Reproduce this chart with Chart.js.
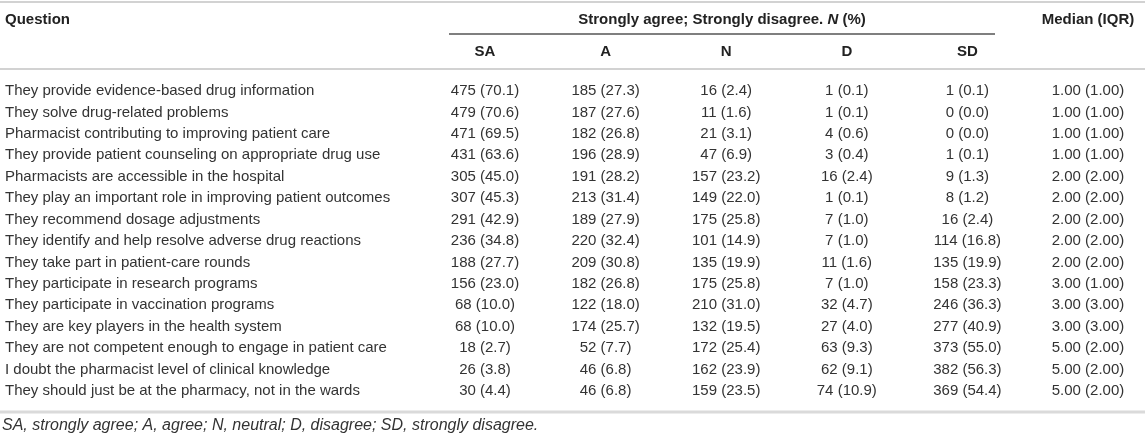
<!DOCTYPE html>
<html>
<head>
<meta charset="utf-8">
<script src="https://cdn.jsdelivr.net/npm/chart.js@4.4.1/dist/chart.umd.min.js"></script>
<style>
  html, body { margin: 0; padding: 0; background: #fff; }
  canvas { display: block; }
</style>
</head>
<body>
<canvas id="tableChart" width="1145" height="434"></canvas>
<script>
const questions = [
  "They provide evidence-based drug information",
  "They solve drug-related problems",
  "Pharmacist contributing to improving patient care",
  "They provide patient counseling on appropriate drug use",
  "Pharmacists are accessible in the hospital",
  "They play an important role in improving patient outcomes",
  "They recommend dosage adjustments",
  "They identify and help resolve adverse drug reactions",
  "They take part in patient-care rounds",
  "They participate in research programs",
  "They participate in vaccination programs",
  "They are key players in the health system",
  "They are not competent enough to engage in patient care",
  "I doubt the pharmacist level of clinical knowledge",
  "They should just be at the pharmacy, not in the wards"
];
const columnLabels = ["SA", "A", "N", "D", "SD", "Median (IQR)"];

const saN = [475, 479, 471, 431, 305, 307, 291, 236, 188, 156, 68, 68, 18, 26, 30];
const saPct = [70.1, 70.6, 69.5, 63.6, 45.0, 45.3, 42.9, 34.8, 27.7, 23.0, 10.0, 10.0, 2.7, 3.8, 4.4];
const aN = [185, 187, 182, 196, 191, 213, 189, 220, 209, 182, 122, 174, 52, 46, 46];
const aPct = [27.3, 27.6, 26.8, 28.9, 28.2, 31.4, 27.9, 32.4, 30.8, 26.8, 18.0, 25.7, 7.7, 6.8, 6.8];
const nN = [16, 11, 21, 47, 157, 149, 175, 101, 135, 175, 210, 132, 172, 162, 159];
const nPct = [2.4, 1.6, 3.1, 6.9, 23.2, 22.0, 25.8, 14.9, 19.9, 25.8, 31.0, 19.5, 25.4, 23.9, 23.5];
const dN = [1, 1, 4, 3, 16, 1, 7, 7, 11, 7, 32, 27, 63, 62, 74];
const dPct = [0.1, 0.1, 0.6, 0.4, 2.4, 0.1, 1.0, 1.0, 1.6, 1.0, 4.7, 4.0, 9.3, 9.1, 10.9];
const sdN = [1, 0, 0, 1, 9, 8, 16, 114, 135, 158, 246, 277, 373, 382, 369];
const sdPct = [0.1, 0.0, 0.0, 0.1, 1.3, 1.2, 2.4, 16.8, 19.9, 23.3, 36.3, 40.9, 55.0, 56.3, 54.4];
const median = [1, 1, 1, 1, 2, 2, 2, 2, 2, 3, 3, 3, 5, 5, 5];
const iqr = [1, 1, 1, 1, 2, 2, 2, 2, 2, 1, 3, 3, 2, 2, 2];

const footnote = "SA, strongly agree; A, agree; N, neutral; D, disagree; SD, strongly disagree.";

const FONT = "'Liberation Sans', Arial, Helvetica, sans-serif";
const textColor = "#333";
const headColor = "#222";

// one dataset per column, one point per question row
const countCols = [[saN, saPct], [aN, aPct], [nN, nPct], [dN, dPct], [sdN, sdPct]];
const cellText = countCols.map(([n, p]) => n.map((v, i) => `${v} (${p[i].toFixed(1)})`));
cellText.push(median.map((m, i) => `${m.toFixed(2)} (${iqr[i].toFixed(2)})`));

const datasets = columnLabels.map((col, j) => ({
  label: col,
  data: questions.map(q => ({ x: col, y: q })),
  cellText: cellText[j],
  showLine: false,
  pointRadius: 0,
  pointHoverRadius: 0
}));

const cellPlugin = {
  id: "cells",
  afterDatasetsDraw(chart) {
    const ctx = chart.ctx;
    ctx.save();
    ctx.font = `15px ${FONT}`;
    ctx.fillStyle = textColor;
    ctx.textAlign = "center";
    ctx.textBaseline = "middle";
    chart.data.datasets.forEach((ds, j) => {
      chart.getDatasetMeta(j).data.forEach((pt, i) => {
        ctx.fillText(ds.cellText[i], pt.x, pt.y);
      });
    });
    ctx.restore();
  }
};

const framePlugin = {
  id: "frame",
  afterDraw(chart) {
    const ctx = chart.ctx;
    const xs = chart.scales.x;
    const W = chart.width;
    const hline = (x1, x2, y, w, c) => {
      ctx.beginPath();
      ctx.lineWidth = w;
      ctx.strokeStyle = c;
      ctx.moveTo(x1, y);
      ctx.lineTo(x2, y);
      ctx.stroke();
    };
    ctx.save();
    hline(0, W, 2, 2, "#d2d2d2");
    hline(449, 995, 34, 1.5, "#555");
    hline(0, W, 69, 2, "#d2d2d2");
    hline(0, W, 412, 3, "#dadada");

    ctx.fillStyle = headColor;
    ctx.textBaseline = "middle";
    ctx.font = `bold 15px ${FONT}`;
    ctx.textAlign = "left";
    ctx.fillText("Question", 5, 20);

    // group header with italic N
    const p1 = "Strongly agree; Strongly disagree. ", p2 = "N", p3 = " (%)";
    const bold = `bold 15px ${FONT}`, boldIt = `italic bold 15px ${FONT}`;
    ctx.font = bold; const w1 = ctx.measureText(p1).width, w3 = ctx.measureText(p3).width;
    ctx.font = boldIt; const w2 = ctx.measureText(p2).width;
    let gx = (449 + 995) / 2 - (w1 + w2 + w3) / 2;
    ctx.font = bold; ctx.fillText(p1, gx, 20);
    ctx.font = boldIt; ctx.fillText(p2, gx + w1, 20);
    ctx.font = bold; ctx.fillText(p3, gx + w1 + w2, 20);

    ctx.textAlign = "center";
    ctx.font = bold;
    columnLabels.forEach((c, j) => {
      const x = xs.getPixelForValue(j);
      ctx.fillText(c, x, j < 5 ? 52 : 20);
    });

    ctx.font = `italic 16px ${FONT}`;
    ctx.fillStyle = textColor;
    ctx.textAlign = "left";
    ctx.fillText(footnote, 2, 426);
    ctx.restore();
  }
};

new Chart(document.getElementById("tableChart").getContext("2d"), {
  type: "line",
  data: { datasets },
  options: {
    responsive: false,
    animation: false,
    events: [],
    layout: { padding: { left: 5, right: 57, top: 91, bottom: 43 } },
    plugins: { legend: { display: false }, tooltip: { enabled: false } },
    scales: {
      x: {
        type: "category",
        labels: columnLabels,
        offset: false,
        display: false
      },
      y: {
        type: "category",
        labels: questions,
        offset: false,
        grid: { display: false, drawTicks: false },
        border: { display: false },
        afterFit(scale) { scale.width = 480; },
        ticks: {
          autoSkip: false,
          crossAlign: "far",
          padding: 0,
          color: textColor,
          font: { family: FONT, size: 15 }
        }
      }
    }
  },
  plugins: [cellPlugin, framePlugin]
});
</script>
</body>
</html>
